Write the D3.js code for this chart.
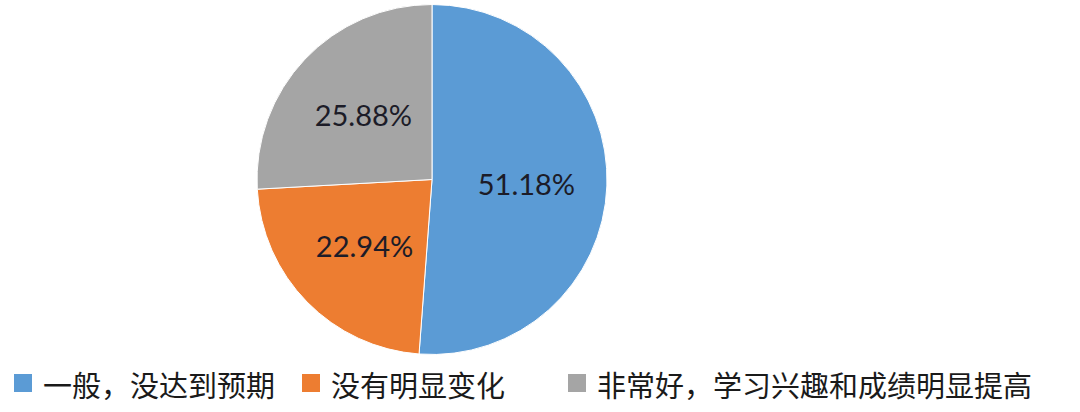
<!DOCTYPE html>
<html><head><meta charset="utf-8">
<script src="https://cdn.jsdelivr.net/npm/d3@7/dist/d3.min.js"></script>
<style>html,body{margin:0;padding:0;background:#fff;}svg{display:block;}</style>
</head><body>
<svg id="chart" width="1080" height="412"></svg>
<script>
const categories = ["一般，没达到预期", "没有明显变化", "非常好，学习兴趣和成绩明显提高"];
const values = [51.18, 22.94, 25.88];
const labels = ["51.18%", "22.94%", "25.88%"];
const colors = ["#5B9BD5", "#ED7D31", "#A5A5A5"];

const svg = d3.select("#chart");
const cx = 432, cy = 179.5, r = 175;
const g = svg.append("g").attr("transform", `translate(${cx},${cy})`);
const pie = d3.pie().value(d => d).sort(null);
const arcs = pie(values);
const arc = d3.arc().innerRadius(0).outerRadius(r);
const labelArc = d3.arc().innerRadius(r * 0.54).outerRadius(r * 0.54);

g.selectAll("path").data(arcs).join("path")
  .attr("d", arc)
  .attr("fill", (d, i) => colors[i])
  .attr("stroke", "#ffffff")
  .attr("stroke-width", 1);

g.selectAll("text").data(arcs).join("text")
  .attr("transform", d => `translate(${labelArc.centroid(d)})`)
  .attr("text-anchor", "middle")
  .attr("dominant-baseline", "central")
  .attr("font-family", "Lato, 'Noto Sans', sans-serif")
  .attr("font-size", 29)
  .attr("fill", "#1c1c28")
  .text((d, i) => labels[i]);

const legendX = [14, 302, 568];
const lg = svg.append("g");
categories.forEach((c, i) => {
  lg.append("rect").attr("x", legendX[i]).attr("y", 374).attr("width", 18).attr("height", 18).attr("fill", colors[i]);
  lg.append("text").attr("x", legendX[i] + 29).attr("y", 384)
    .attr("dominant-baseline", "central")
    .attr("font-family", "'Noto Sans CJK SC', sans-serif")
    .attr("font-size", 29)
    .attr("fill", "#1a1a1a")
    .text(c);
});
</script>
</body></html>
